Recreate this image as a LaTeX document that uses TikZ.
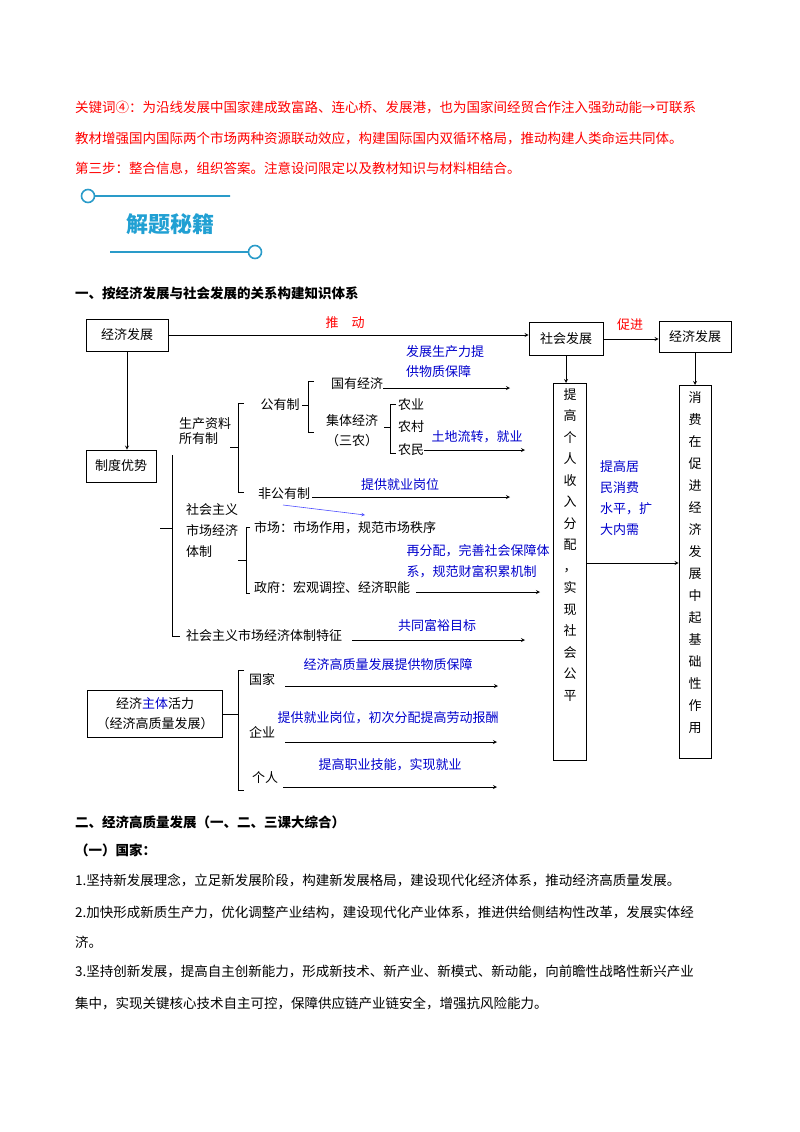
\documentclass[tikz,border=0pt]{standalone}
\usepackage{fontspec}
\setmainfont{Noto Sans CJK SC}
\begin{document}
\begin{tikzpicture}[x=1pt,y=-1pt,
  txt/.style={inner sep=0pt,font=\fontsize{13}{15}\selectfont},
  btxt/.style={txt,text=blue!80!black},
  rtxt/.style={txt,text=red},
  para/.style={inner sep=0pt,anchor=west,font=\fontsize{13.5}{16}\selectfont},
  bx/.style={draw,line width=0.8pt,inner sep=0pt,font=\fontsize{13}{15}\selectfont},
  arr/.style={->,line width=0.8pt,>=stealth},
  ln/.style={line width=0.8pt}]
\useasboundingbox (0,0) rectangle (800,1132);
% header text
\node[para,text=red] (l1) at (75,107) {关键词④：为沿线发展中国家建成致富路、连心桥、发展港，也为国家间经贸合作注入强劲动能→可联系};
\node[para,text=red] (l2) at (75,138) {教材增强国内国际两个市场两种资源联动效应，构建国际国内双循环格局，推动构建人类命运共同体。};
\node[para,text=red] (l3) at (75,168) {第三步：整合信息，组织答案。注意设问限定以及教材知识与材料相结合。};
% banner
\draw[cyan!60!teal,line width=1.6pt] (88,196) circle (6.5) (94.5,196) -- (230,196);
\draw[cyan!60!teal,line width=1.6pt] (255,252) circle (6.5) (248.5,252) -- (110,252);
\node[inner sep=0pt,text=cyan!70!teal,font=\fontsize{22}{24}\selectfont\bfseries] (ban) at (170,224) {解题秘籍};
\node[para,font=\fontsize{13.5}{16}\selectfont\bfseries] (h1) at (75,293) {一、按经济发展与社会发展的关系构建知识体系};
% top row
\node[bx,minimum width=82,minimum height=32] (jj) at (127,335) {经济发展};
\node[bx,minimum width=74,minimum height=33] (sh) at (566,339) {社会发展};
\node[bx,minimum width=72,minimum height=31] (jj2) at (695,337) {经济发展};
\draw[arr] (jj.east) -- (jj.east -| sh.west);
\node[rtxt] (td) at (345,323) {推\quad 动};
\draw[arr] (sh.east) -- (jj2.west |- sh.east);
\node[rtxt] (cj) at (630,325) {促进};
% tall boxes
\node[bx,minimum width=33,minimum height=377,anchor=north] (t1) at (570,383) {};
\node[txt,anchor=north,align=center,font=\fontsize{13}{21.5}\selectfont] (t1t) at (570,388) {提\\高\\个\\人\\收\\入\\分\\配\\，\\实\\现\\社\\会\\公\\平};
\node[bx,minimum width=32,minimum height=373,anchor=north] (t2) at (695,385) {};
\node[txt,anchor=north,align=center,font=\fontsize{13}{22}\selectfont] (t2t) at (695,391) {消\\费\\在\\促\\进\\经\\济\\发\\展\\中\\起\\基\\础\\性\\作\\用};
\draw[arr] (sh.south) -- (sh.south |- t1.north);
\draw[arr] (jj2.south) -- (t2.north);
\node[btxt,align=left,anchor=north west,font=\fontsize{13}{21}\selectfont] (xf) at (600,460) {提高居\\民消费\\水平，扩\\大内需};
\coordinate (a0) at (586.5,563);
\draw[arr] (a0) -- (a0 -| t2.west);
% left
\node[bx,minimum width=70,minimum height=32] (zd) at (121,466) {制度优势};
\draw[arr] (jj.south) -- (zd.north -| jj.south);
\coordinate (v1) at (172,455);
\coordinate (v2) at (172,636);
\draw[ln] (v1) -- (v2) -- (180,636);
\draw[ln] (160,528) -- (172,528);
% 生产资料所有制
\node[txt,align=left] (sc) at (205,431) {生产资料\\所有制};
\draw[ln] (230,447) -- (238,447) (244,403) -- (238,403) -- (238,492) -- (244,492);
\node[txt] (gy) at (280,405) {公有制};
\draw[ln] (302,405) -- (308,405) (314,381) -- (308,381) -- (308,432) -- (314,432);
\node[txt] (gyjj) at (357,384) {国有经济};
\draw[arr] (gyjj.east |- 0,388) -- (510,388);
\node[btxt,align=left,font=\fontsize{13}{20}\selectfont] (fz) at (445,362) {发展生产力提\\供物质保障};
\node[txt,align=center,font=\fontsize{13}{20}\selectfont] (jt) at (352,431) {集体经济\\（三农）};
\draw[ln] (384,427) -- (390,427) (396,404) -- (390,404) -- (390,453) -- (396,453);
\node[txt] (ny) at (411,405) {农业};
\node[txt] (nc) at (411,427) {农村};
\node[txt] (nm) at (411,450) {农民};
\draw[arr] (nm.east) -- (525,450);
\node[btxt] (td2) at (477,437) {土地流转，就业};
\node[txt] (fg) at (284,494) {非公有制};
\draw[arr] (fg.east |- 0,497) ++(2,0) -- (510,497);
\node[btxt] (gw) at (400,485) {提供就业岗位};
\coordinate (ba) at (283,505);
\coordinate (bb) at (365,515);
\draw[->,>=stealth,blue!70,line width=0.6pt] (ba) -- (bb);
% 社会主义市场经济体制
\node[txt,align=left,font=\fontsize{13}{21}\selectfont] (sm) at (212,531) {社会主义\\市场经济\\体制};
\draw[ln] (238,560) -- (246,560) (250,527) -- (246,527) -- (246,593) -- (250,593);
\node[txt,anchor=west] (sc2) at (254,528) {市场：市场作用，规范市场秩序};
\node[txt,anchor=west] (zf) at (254,588) {政府：宏观调控、经济职能};
\draw[arr] (zf.east |- 0,592) ++(6,0) -- (540,592);
\node[btxt,align=left,font=\fontsize{13}{21}\selectfont] (zfp) at (478,561) {再分配，完善社会保障体\\系，规范财富积累机制};
\node[txt,anchor=west] (tz) at (186,636) {社会主义市场经济体制特征};
\draw[arr] (tz.east |- 0,640) ++(10,0) -- (525,640);
\node[btxt] (gt) at (437,626) {共同富裕目标};
% 经济主体活力
\node[bx,minimum width=135,minimum height=47,align=center,font=\fontsize{13}{20}\selectfont] (zt) at (155,714) {经济\textcolor{blue!80!black}{主体}活力\\（经济高质量发展）};
\draw[ln] (zt.east) -- (238,714) (244,670) -- (238,670) -- (238,790) -- (244,790);
\node[txt] (gj) at (262,680) {国家};
\node[txt] (qy) at (262,732) {企业};
\node[txt] (gr) at (265,778) {个人};
\coordinate (g1) at (285,686);
\coordinate (g2) at (285,742);
\coordinate (g3) at (283,787);
\draw[arr] (g1) -- (498,686);
\draw[arr] (g2) -- (497,742);
\draw[arr] (g3) -- (497,787);
\node[btxt] (p1) at (388,665) {经济高质量发展提供物质保障};
\node[btxt] (p2) at (388,718) {提供就业岗位，初次分配提高劳动报酬};
\node[btxt] (p3) at (390,765) {提高职业技能，实现就业};
% section 2
\node[para,font=\fontsize{13.5}{16}\selectfont\bfseries] (h2) at (75,822) {二、经济高质量发展（一、二、三课大综合）};
\node[para,font=\fontsize{13.5}{16}\selectfont\bfseries] (h3) at (75,850) {（一）国家：};
\node[para] (b1) at (75,880) {1.坚持新发展理念，立足新发展阶段，构建新发展格局，建设现代化经济体系，推动经济高质量发展。};
\node[para] (b2) at (75,912) {2.加快形成新质生产力，优化调整产业结构，建设现代化产业体系，推进供给侧结构性改革，发展实体经};
\node[para] (b3) at (75,942) {济。};
\node[para] (b4) at (75,972) {3.坚持创新发展，提高自主创新能力，形成新技术、新产业、新模式、新动能，向前瞻性战略性新兴产业};
\node[para] (b5) at (75,1003) {集中，实现关键核心技术自主可控，保障供应链产业链安全，增强抗风险能力。};
\end{tikzpicture}
\end{document}
